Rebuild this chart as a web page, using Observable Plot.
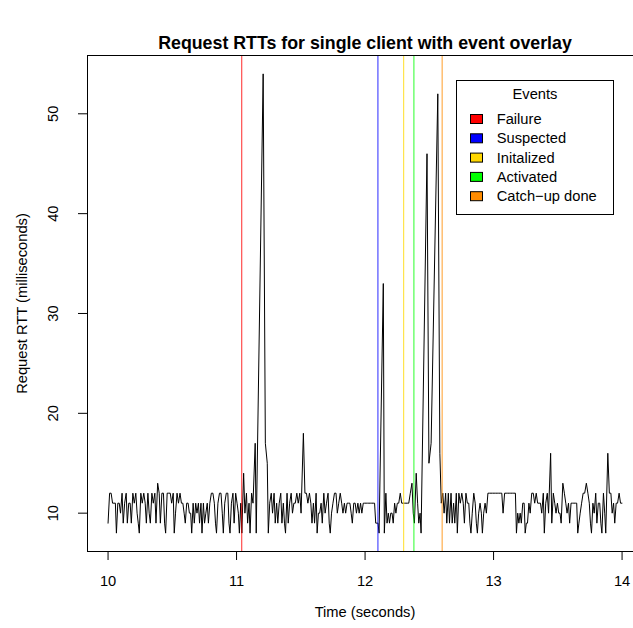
<!DOCTYPE html>
<html>
<head>
<meta charset="utf-8">
<script src="https://cdn.jsdelivr.net/npm/d3@7"></script>
<script src="https://cdn.jsdelivr.net/npm/@observablehq/plot@0.6"></script>
<style>
  html, body { margin: 0; padding: 0; background: #fff; }
  #chart { position: relative; width: 633px; height: 628px; overflow: hidden; }
</style>
</head>
<body>
<div id="chart"></div>
<script>
// ---- data ----
const titleText = "Request RTTs for single client with event overlay";
const xLabel = "Time (seconds)";
const yLabel = "Request RTT (milliseconds)";
const startTime = 10.0; // time of the first completed request (s)

// RTT of each sequential request (ms); each request completes rtt ms after the previous one
const rtt = [
  9,
  12,12,11,11,11,8,11,11,10,12,
  9,11,12,9,11,11,9,12,11,12,
  10,9,8,12,11,12,11,9,12,10,
  9,12,11,12,9,13,12,9,12,12,
  9,8,12,12,12,11,12,8,10,12,
  11,12,11,11,10,9,11,11,10,10,
  8,11,9,11,10,11,9,11,8,11,
  9,10,11,9,11,12,12,11,9,8,
  11,12,12,10,8,11,12,12,9,8,
  11,12,9,12,11,10,8,11,8,
  14,10,12,9,11,8,12,11,17,8,54,17,15,
  8,11,12,10,12,9,11,9,11,12,
  9,11,9,8,12,9,11,12,10,11,
  11,12,11,12,10,18,
  12,12,11,12,11,9,11,9,12,8,
  10,10,11,9,12,10,11,12,9,8,
  10,11,12,12,10,11,12,11,10,11,
  10,11,11,11,10,9,11,11,10,11,
  10,11,10,11,11,11,11,11,11,11,
  11,11,9,9,9,8,
  33,
  8,12,9,10,9,10,10,9,11,10,11,11,12,11,11,11,11,11,11,12,13,10,9,14,11,9,10,8,
  46,15,17,52,16,11,
  12,10,12,9,12,9,12,9,11,9,12,8,12,11,12,11,9,12,11,11,9,8,10,12,11,9,8,10,11,10,8,10,11,10,
  12,12,12,12,12,12,12,12,12,12,
  10,
  12,12,12,12,12,12,12,12,
  8,10,9,10,9,11,11,8,9,9,11,10,12,12,11,12,11,11,11,10,12,8,11,12,10,
  16,
  9,12,11,10,11,10,10,9,13,12,11,10,11,9,11,11,11,11,11,8,9,10,11,12,12,13,12,11,9,8,11,10,12,9,11,11,9,8,12,10,8,
  16,
  12,12,10,11,9,11,11,12,11,11
];

const eventNames  = ["Failure", "Suspected", "Initalized", "Activated", "Catch\u2212up done"];
const eventTimes  = [11.04, 12.10, 12.30, 12.38, 12.60];
const eventColors = ["#ff0000", "#0000ff", "#ffd700", "#00ff00", "#ff8c00"];
const legendTitle = "Events";

const xTicks = [10, 11, 12, 13, 14];
const yTicks = [10, 20, 30, 40, 50];

// ---- build tables ----
let acc = 0;
const series = rtt.map((v, i) => {
  if (i > 0) acc += v;
  return { time: startTime + acc / 1000, rtt: v };
});
const events = eventNames.map((name, i) => ({ name, time: eventTimes[i], color: eventColors[i] }));

// R-style 4% axis padding
const [x0, x1] = d3.extent(series, d => d.time);
const [y0, y1] = d3.extent(series, d => d.rtt);
const px = (x1 - x0) * 0.04, py = (y1 - y0) * 0.04;

const FONT = "'Liberation Sans', Arial, Helvetica, sans-serif";
const FS = 14.7;

const chart = Plot.plot({
  width: 633,
  height: 628,
  marginLeft: 87,
  marginRight: -9,
  marginTop: 55,
  marginBottom: 77,
  style: { fontFamily: FONT, fontSize: FS + "px", color: "black", background: "white", overflow: "hidden" },
  x: { domain: [x0 - px, x1 + px] },
  y: { domain: [y0 - py, y1 + py] },
  color: { type: "identity" },
  marks: [
    Plot.line(series, { x: "time", y: "rtt", stroke: "black", strokeWidth: 1 }),
    Plot.ruleX(events, { x: "time", stroke: "color", strokeWidth: 1.2, strokeOpacity: 0.7 }),
    Plot.frame({ stroke: "black", strokeWidth: 1 }),
    Plot.axisX(xTicks, { tickSize: 9, tickPadding: 15, tickFormat: d => String(d), label: null, fontSize: FS }),
    Plot.axisY(yTicks, { tickSize: 9, tickFormat: () => "", label: null }),
    Plot.text(yTicks, { y: d => d, text: d => String(d), frameAnchor: "left", dx: -34, rotate: -90, lineAnchor: "middle", textAnchor: "middle", fontSize: FS }),
    Plot.text([yLabel], { text: d => d, frameAnchor: "left", dx: -65, rotate: -90, lineAnchor: "middle", textAnchor: "middle", fontSize: FS }),
    Plot.text([xLabel], { text: d => d, frameAnchor: "bottom", dy: 61, lineAnchor: "middle", fontSize: FS }),
    Plot.text([titleText], { text: d => d, frameAnchor: "top", dy: -12, lineAnchor: "middle", fontWeight: "bold", fontSize: 17.8 })
  ]
});

// ---- legend (R-style boxed legend, top right inside the plot) ----
const svg = d3.select(chart);
const lg = svg.append("g").attr("font-family", FONT).attr("font-size", FS).attr("text-anchor", "start");
lg.append("rect")
  .attr("x", 456.5).attr("y", 80.5).attr("width", 157).attr("height", 134)
  .attr("fill", "white").attr("stroke", "black");
lg.append("text")
  .attr("x", 535).attr("y", 94).attr("dy", "0.35em").attr("text-anchor", "middle")
  .text(legendTitle);
events.forEach((e, i) => {
  const cy = 119 + i * 19.3;
  lg.append("rect")
    .attr("x", 470.5).attr("y", cy - 4.5).attr("width", 12).attr("height", 9)
    .attr("fill", e.color).attr("stroke", "black");
  lg.append("text")
    .attr("x", 496.7).attr("y", cy).attr("dy", "0.35em").attr("text-anchor", "start")
    .text(e.name);
});

document.getElementById("chart").appendChild(chart);
</script>
</body>
</html>
